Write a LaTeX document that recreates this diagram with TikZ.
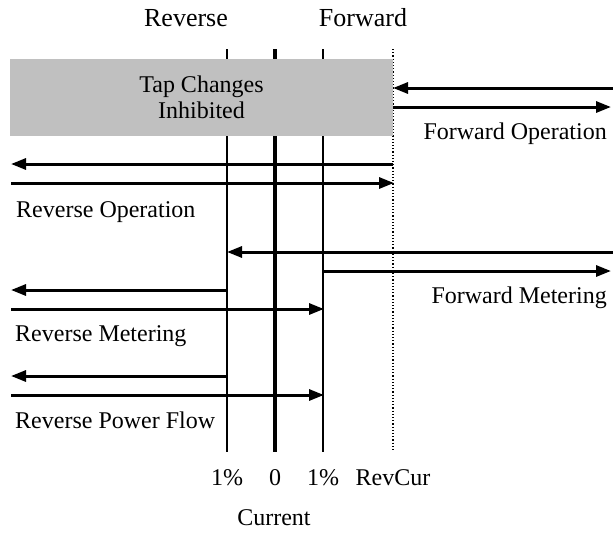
\documentclass[tikz,border=0pt]{standalone}
\usepackage{fontspec}
\setmainfont{Liberation Serif}
\usetikzlibrary{arrows.meta}
\definecolor{inhibitgray}{HTML}{C0C0C0}
\begin{document}
\begin{tikzpicture}[x=1pt,y=-1pt,
  txt/.style={font=\fontsize{24}{26}\selectfont, inner sep=0pt},
  head/.style={font=\fontsize{26}{28}\selectfont, inner sep=0pt},
  flow/.style={line width=3pt, -{Triangle[length=15pt,width=11pt]}},
  thinaxis/.style={line width=2pt},
  zeroaxis/.style={line width=4pt},
  revaxis/.style={line width=1.2pt, dotted},
  inhibit/.style={fill=inhibitgray, draw=none, minimum width=383pt,
    minimum height=77pt, align=center, inner sep=0pt,
    font=\fontsize{24}{26}\selectfont}]
\useasboundingbox (0,0) rectangle (613,533);

% axis positions
\coordinate (rTop) at (227,49);  \coordinate (rBot) at (227,452);
\coordinate (zTop) at (275,49);  \coordinate (zBot) at (275,452);
\coordinate (fTop) at (323,49);  \coordinate (fBot) at (323,452);
\coordinate (cTop) at (393,49);  \coordinate (cBot) at (393,452);

\draw[thinaxis] (rTop) -- (rBot);
\draw[zeroaxis] (zTop) -- (zBot);
\draw[thinaxis] (fTop) -- (fBot);
\draw[revaxis] (cTop) -- (cBot);

% inhibited band
\node[inhibit] (inhib) at (201.5,97.5) {Tap Changes\\Inhibited};

% direction headings
\node[head, anchor=base] (hRev) at (186,26) {Reverse};
\node[head, anchor=base] (hFwd) at (363,26) {Forward};

% forward operation
\coordinate (foR1) at (613,88);  \coordinate (foL1) at (393,88);
\coordinate (foL2) at (393,107); \coordinate (foR2) at (611,107);
\draw[flow] (foR1) -- (foL1);
\draw[flow] (foL2) -- (foR2);
\node[txt, anchor=base east] (lFO) at (607,139) {Forward Operation};

% reverse operation
\coordinate (roR1) at (393,164); \coordinate (roL1) at (11,164);
\coordinate (roL2) at (11,183);  \coordinate (roR2) at (394,183);
\draw[flow] (roR1) -- (roL1);
\draw[flow] (roL2) -- (roR2);
\node[txt, anchor=base west] (lRO) at (16,217) {Reverse Operation};

% forward metering
\coordinate (fmR1) at (613,252); \coordinate (fmL1) at (227,252);
\coordinate (fmL2) at (323,271); \coordinate (fmR2) at (611,271);
\draw[flow] (fmR1) -- (fmL1);
\draw[flow] (fmL2) -- (fmR2);
\node[txt, anchor=base east] (lFM) at (607,303) {Forward Metering};

% reverse metering
\coordinate (rmR1) at (227,290); \coordinate (rmL1) at (11,290);
\coordinate (rmL2) at (11,309);  \coordinate (rmR2) at (324,309);
\draw[flow] (rmR1) -- (rmL1);
\draw[flow] (rmL2) -- (rmR2);
\node[txt, anchor=base west] (lRM) at (15,341) {Reverse Metering};

% reverse power flow
\coordinate (rpR1) at (227,376); \coordinate (rpL1) at (11,376);
\coordinate (rpL2) at (11,395);  \coordinate (rpR2) at (324,395);
\draw[flow] (rpR1) -- (rpL1);
\draw[flow] (rpL2) -- (rpR2);
\node[txt, anchor=base west] (lRP) at (15,428) {Reverse Power Flow};

% axis labels
\node[txt, anchor=base] (tRev) at (227,485) {1\%};
\node[txt, anchor=base] (tZero) at (275,485) {0};
\node[txt, anchor=base] (tFwd) at (323,485) {1\%};
\node[txt, anchor=base] (tCur) at (393,485) {RevCur};
\node[txt, anchor=base] (xlab) at (274,525) {Current};
\end{tikzpicture}
\end{document}
